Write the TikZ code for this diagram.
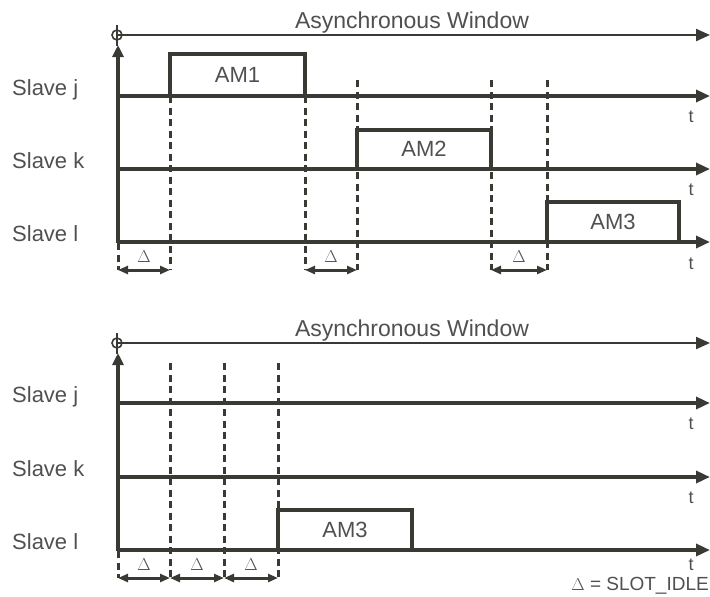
\documentclass[tikz,border=0pt]{standalone}
\usepackage{fontspec}
\setmainfont{Liberation Sans}
\usetikzlibrary{arrows.meta}
\definecolor{ln}{HTML}{3A3A35}
\definecolor{tx}{HTML}{505050}
\tikzset{
  axisln/.style={line width=3.3pt, draw=ln, -{Triangle[length=14pt,width=12pt]}},
  vaxis/.style={line width=3.3pt, draw=ln, -{Triangle[length=12pt,width=11pt]}},
  winln/.style={line width=2.2pt, draw=ln, -{Triangle[length=14pt,width=12pt]}},
  dashln/.style={line width=3pt, draw=ln, dash pattern=on 7pt off 4.5pt},
  amframe/.style={line width=3.3pt, draw=ln},
  dltarrow/.style={line width=3pt, draw=ln, {Triangle[length=10pt,width=8pt]}-{Triangle[length=10pt,width=8pt]}},
  lbl/.style={text=tx, font=\fontsize{22}{24}\selectfont, inner sep=0pt},
  wlbl/.style={text=tx, font=\fontsize{23}{25}\selectfont, inner sep=0pt, anchor=base},
  amlbl/.style={text=tx, font=\fontsize{22}{24}\selectfont, inner sep=0pt},
  tlbl/.style={text=tx, font=\fontsize{18}{20}\selectfont, inner sep=0pt},
  dlbl/.style={text=tx, font=\fontsize{18}{20}\selectfont, inner sep=0pt},
  orig/.style={line width=1.6pt, draw=ln},
}
\begin{document}
\begin{tikzpicture}[x=1pt,y=-1pt]
\useasboundingbox (0,0) rectangle (710,597);

% ================= TOP DIAGRAM =================
\node[wlbl] (aw1) at (412,28) {Asynchronous Window};
\coordinate (o1) at (117,35);
\coordinate (we1) at (710,35);
\coordinate (ot1) at (117,25);
\coordinate (ab1) at (118,243);
\coordinate (at1) at (118,45);
\draw[winln] (o1) -- (we1);
\draw[orig] (ot1) -- (117,46);
\draw[orig] (o1) circle (5pt);
\draw[vaxis] (ab1) -- (at1);

% slave lines
\coordinate (j1s) at (118,96);  \coordinate (j1e) at (710,96);
\coordinate (k1s) at (118,169); \coordinate (k1e) at (710,169);
\coordinate (l1s) at (118,242); \coordinate (l1e) at (710,242);
\draw[axisln] (j1s) -- (j1e);
\draw[axisln] (k1s) -- (k1e);
\draw[axisln] (l1s) -- (l1e);

\node[lbl, anchor=base west] (sj1) at (12,95) {Slave j};
\node[lbl, anchor=base west] (sk1) at (12,168) {Slave k};
\node[lbl, anchor=base west] (sl1) at (12,241) {Slave l};

\node[tlbl] (t1) at (691,117) {t};
\node[tlbl] (t2) at (691,190) {t};
\node[tlbl] (t3) at (691,264) {t};

% dashed lines
\coordinate (d1a) at (170,96);  \coordinate (d1b) at (170,270);
\coordinate (d2a) at (305,96);  \coordinate (d2b) at (305,270);
\coordinate (d3a) at (357,80);  \coordinate (d3b) at (357,270);
\coordinate (d4a) at (491,80);  \coordinate (d4b) at (491,270);
\coordinate (d5a) at (547,80);  \coordinate (d5b) at (547,270);
\coordinate (d0a) at (118,243); \coordinate (d0b) at (118,270);
\foreach \p in {0,1,2,3,4,5} \draw[dashln] (d\p a) -- (d\p b);

% AM boxes
\draw[amframe] (170,96) -- (170,54) -- (305,54) -- (305,96);
\node[amlbl] (am1) at (237.5,75) {AM1};
\draw[amframe] (357,169) -- (357,130) -- (491,130) -- (491,169);
\node[amlbl] (am2) at (424,149) {AM2};
\draw[amframe] (547,242) -- (547,202) -- (679,202) -- (679,242);
\node[amlbl] (am3) at (613,222) {AM3};

% delta arrows
\draw[dltarrow] (d0b) -- (d1b);
\draw[dltarrow] (d2b) -- (d3b);
\draw[dltarrow] (d4b) -- (d5b);
\node[dlbl] (dl1) at (144,257) {$\Delta$};
\node[dlbl] (dl2) at (331,257) {$\Delta$};
\node[dlbl] (dl3) at (519,257) {$\Delta$};

% ================= BOTTOM DIAGRAM =================
\node[wlbl] (aw2) at (412,336) {Asynchronous Window};
\coordinate (o2) at (117,343);
\coordinate (we2) at (710,343);
\coordinate (ot2) at (117,333);
\coordinate (ab2) at (118,551);
\coordinate (at2) at (118,353);
\draw[winln] (o2) -- (we2);
\draw[orig] (ot2) -- (117,354);
\draw[orig] (o2) circle (5pt);
\draw[vaxis] (ab2) -- (at2);

\coordinate (j2s) at (118,403); \coordinate (j2e) at (710,403);
\coordinate (k2s) at (118,477); \coordinate (k2e) at (710,477);
\coordinate (l2s) at (118,550); \coordinate (l2e) at (710,550);
\draw[axisln] (j2s) -- (j2e);
\draw[axisln] (k2s) -- (k2e);
\draw[axisln] (l2s) -- (l2e);

\node[lbl, anchor=base west] (sj2) at (12,402) {Slave j};
\node[lbl, anchor=base west] (sk2) at (12,476) {Slave k};
\node[lbl, anchor=base west] (sl2) at (12,549) {Slave l};

\node[tlbl] (t4) at (691,424) {t};
\node[tlbl] (t5) at (691,498) {t};
\node[tlbl] (t6) at (691,565) {t};

\coordinate (e1a) at (170,363); \coordinate (e1b) at (170,578);
\coordinate (e2a) at (224,363); \coordinate (e2b) at (224,578);
\coordinate (e3a) at (278,363); \coordinate (e3b) at (278,578);
\coordinate (e0a) at (118,551); \coordinate (e0b) at (118,578);
\foreach \p in {0,1,2,3} \draw[dashln] (e\p a) -- (e\p b);

\draw[amframe] (278,550) -- (278,510) -- (412,510) -- (412,550);
\node[amlbl] (am4) at (345,530) {AM3};

\draw[dltarrow] (e0b) -- (e1b);
\draw[dltarrow] (e1b) -- (e2b);
\draw[dltarrow] (e2b) -- (e3b);
\node[dlbl] (dl4) at (144,565) {$\Delta$};
\node[dlbl] (dl5) at (197,565) {$\Delta$};
\node[dlbl] (dl6) at (251,565) {$\Delta$};

\node[text=tx, font=\fontsize{19}{21}\selectfont, inner sep=0pt, anchor=east] (leg) at (709,586) {$\Delta$ = SLOT\_IDLE};
\end{tikzpicture}
\end{document}
